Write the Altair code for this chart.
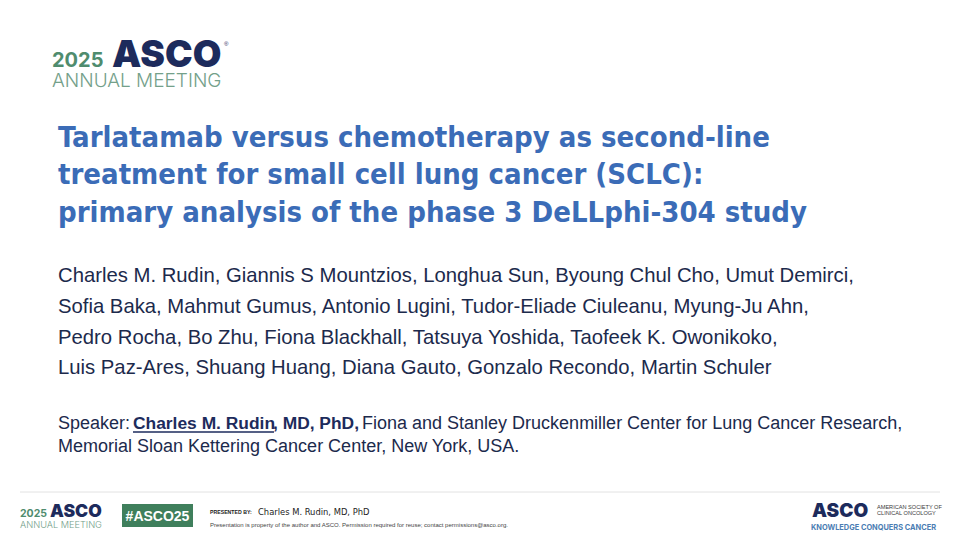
import altair as alt
import pandas as pd

# ---------------- text content ----------------
title_lines = [
    "Tarlatamab versus chemotherapy as second-line",
    "treatment for small cell lung cancer (SCLC):",
    "primary analysis of the phase 3 DeLLphi-304 study",
]
author_lines = [
    "Charles M. Rudin, Giannis S Mountzios, Longhua Sun, Byoung Chul Cho, Umut Demirci,",
    "Sofia Baka, Mahmut Gumus, Antonio Lugini, Tudor-Eliade Ciuleanu, Myung-Ju Ahn,",
    "Pedro Rocha, Bo Zhu, Fiona Blackhall, Tatsuya Yoshida, Taofeek K. Owonikoko,",
    "Luis Paz-Ares, Shuang Huang, Diana Gauto, Gonzalo Recondo, Martin Schuler",
]
speaker_parts = ["Speaker:", "Charles M. Rudin", ", MD, PhD,",
                 "Fiona and Stanley Druckenmiller Center for Lung Cancer Research,"]
speaker_line2 = "Memorial Sloan Kettering Cancer Center, New York, USA."
logo_year = "2025"
logo_name = "ASCO"
logo_sub = "ANNUAL MEETING"
hashtag = "#ASCO25"
presented_label = "PRESENTED BY:"
presenter = "Charles M. Rudin, MD, PhD"
disclaimer = ("Presentation is property of the author and ASCO. Permission required for reuse; "
              "contact permissions@asco.org.")
society_lines = ["AMERICAN SOCIETY OF", "CLINICAL ONCOLOGY"]
tagline = "KNOWLEDGE CONQUERS CANCER"

# ---------------- layout ----------------
X = alt.X("x:Q", scale=alt.Scale(domain=[8, 952]), axis=None)
Y = alt.Y("y:Q", scale=alt.Scale(domain=[8, 532], reverse=True), axis=None)

NAVY = "#1d2b5c"
GREEN = "#4f8c6e"
LGREEN = "#74a08a"
BLUE = "#3b6cb7"
TEXT = "#1c2a4c"

NARROW = "DejaVu Sans Condensed, sans-serif"
SANS = "Liberation Sans, Arial, Helvetica, sans-serif"
GEO = "Inter, Lato, sans-serif"


def text_layer(texts, xs, ys, **mk):
    df = pd.DataFrame({"t": texts, "x": xs, "y": ys})
    opts = dict(align="left", baseline="alphabetic")
    opts.update(mk)
    return alt.Chart(df).mark_text(**opts).encode(x=X, y=Y, text="t:N")


layers = []

# top-left logo
layers.append(text_layer([logo_year], [52], [67], font=GEO, fontSize=20, fontWeight=700, color=GREEN))
layers.append(text_layer([logo_name], [112], [67], font=GEO, fontSize=37, fontWeight=900, color=NAVY))
layers.append(text_layer(["®"], [224], [46], font=SANS, fontSize=6, color=NAVY))
layers.append(text_layer([logo_sub], [52], [87], font=GEO, fontSize=19, fontWeight=300, color=LGREEN))

# title
layers.append(text_layer(title_lines, [58] * 3, [146.5 + 37.5 * i for i in range(3)],
                         font=NARROW, fontSize=29, fontWeight=700, color=BLUE))

# authors
layers.append(text_layer(author_lines, [58] * 4, [282 + 30.8 * i for i in range(4)],
                         font=SANS, fontSize=20.3, color=TEXT))

# speaker
sp_y = 429
layers.append(text_layer([speaker_parts[0]], [58], [sp_y], font=SANS, fontSize=18, color=TEXT))
layers.append(text_layer([speaker_parts[1], speaker_parts[2]], [133, 273], [sp_y, sp_y],
                         font=SANS, fontSize=17.4, fontWeight=700, color=NAVY))
layers.append(text_layer([speaker_parts[3]], [362], [sp_y], font=SANS, fontSize=18, color=TEXT))
layers.append(text_layer([speaker_line2], [58], [sp_y + 22.5], font=SANS, fontSize=18, color=TEXT))
ul = pd.DataFrame({"x": [133], "x2": [274], "y": [sp_y + 3]})
layers.append(alt.Chart(ul).mark_rule(color=NAVY, strokeWidth=1.3).encode(
    x=X, x2="x2:Q", y=Y))

# footer separator
sep = pd.DataFrame({"x": [20], "x2": [940], "y": [492]})
layers.append(alt.Chart(sep).mark_rule(color="#e2e2e2", strokeWidth=1).encode(x=X, x2="x2:Q", y=Y))

# footer left logo
layers.append(text_layer([logo_year], [20], [517], font=GEO, fontSize=10.5, fontWeight=700, color=GREEN))
layers.append(text_layer([logo_name], [50], [517], font=GEO, fontSize=17.5, fontWeight=900, color=NAVY))
layers.append(text_layer([logo_sub], [20], [527.5], font=GEO, fontSize=9.2, fontWeight=300, color=LGREEN))

# hashtag box
box = pd.DataFrame({"x": [122], "x2": [193], "y": [504], "y2": [527]})
layers.append(alt.Chart(box).mark_rect(color="#3f7f5c").encode(x=X, x2="x2:Q", y=Y, y2="y2:Q"))
layers.append(text_layer([hashtag], [157.5], [521], align="center", font=SANS, fontSize=14,
                         fontWeight=700, color="white"))

# presented by
layers.append(text_layer([presented_label], [210], [513.5], font=SANS, fontSize=5.2,
                         fontWeight=700, color="#222222"))
layers.append(text_layer([presenter], [258], [514.5], font=NARROW, fontSize=9.3, color="#222222"))
layers.append(text_layer([disclaimer], [210], [527], font=SANS, fontSize=6.0, color="#444444"))

# footer right logo
layers.append(text_layer([logo_name], [812], [517], font=GEO, fontSize=19, fontWeight=900, color=NAVY))
layers.append(text_layer(society_lines, [877, 877], [509, 515], font=SANS, fontSize=5.6,
                         color="#3a3a3a"))
layers.append(text_layer([tagline], [811], [529.5], font=GEO, fontSize=7.4, fontWeight=700,
                         color="#4b7db3"))

chart = alt.layer(*layers).properties(
    width=944, height=524, background="white",
    autosize=alt.AutoSizeParams(type="none"), padding=0,
).configure_view(stroke=None)

chart.save("out.html", embed_options={"renderer": "svg", "actions": False})
